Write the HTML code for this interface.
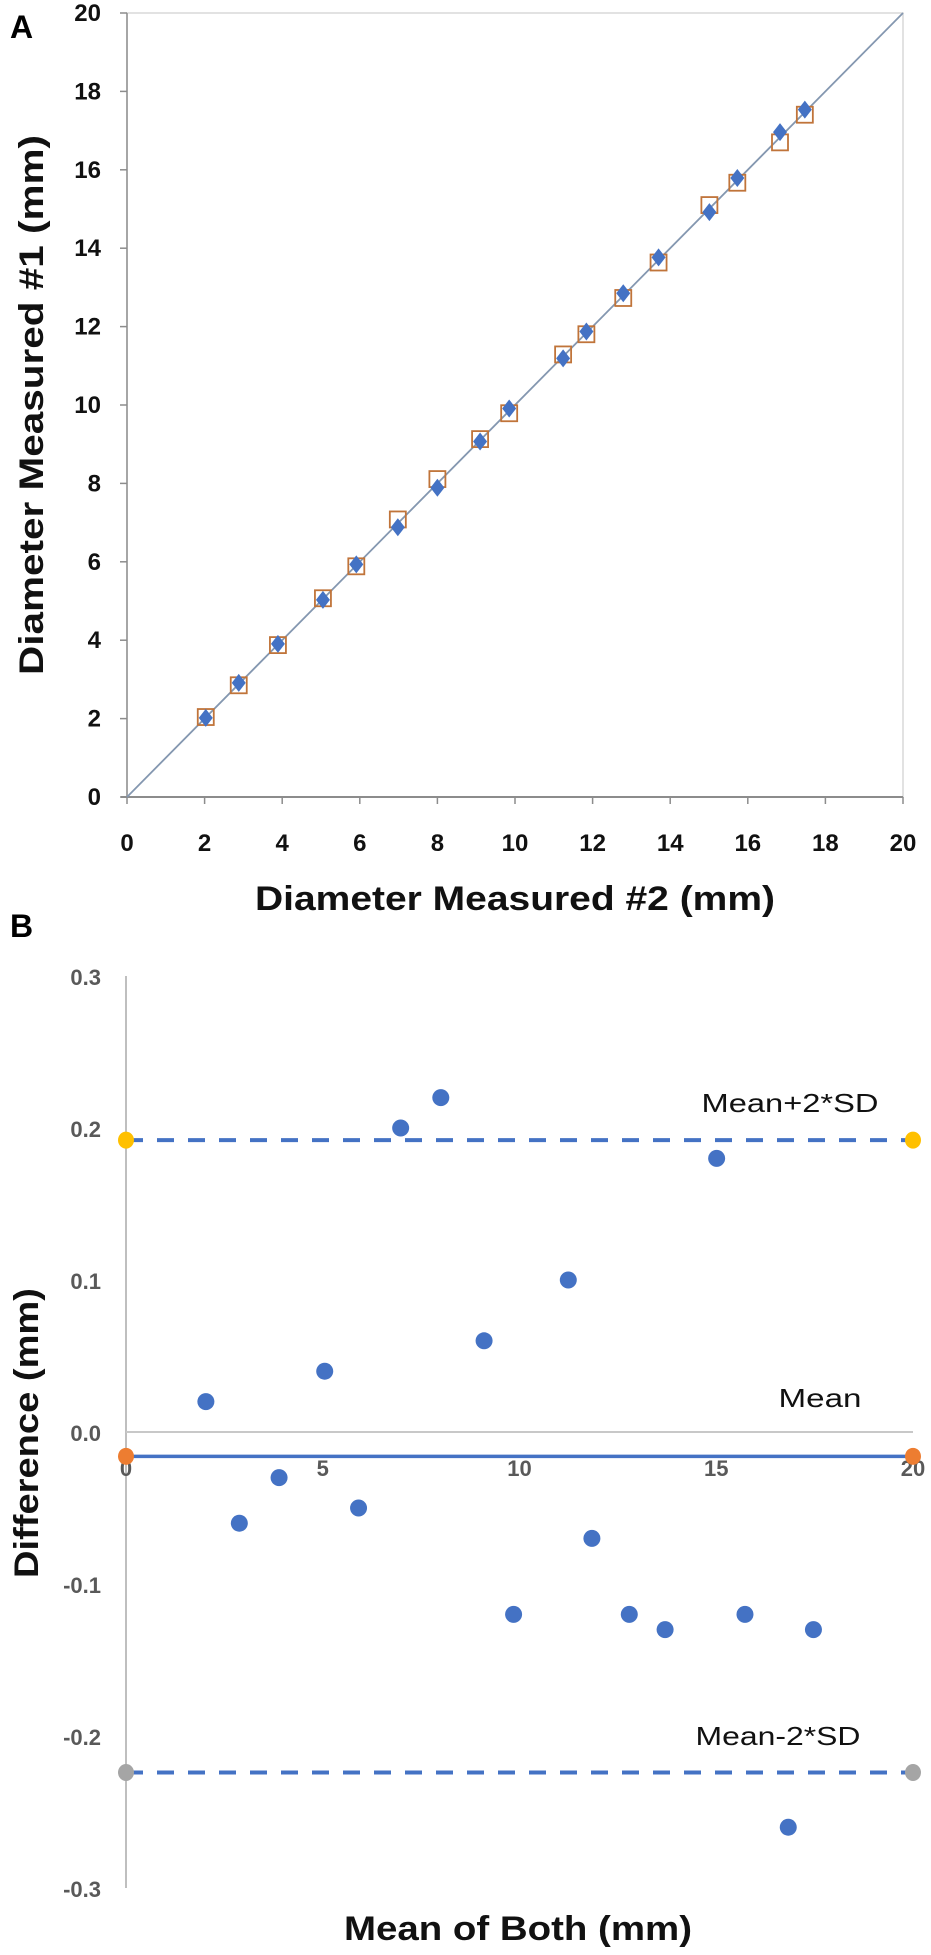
<!DOCTYPE html>
<html><head><meta charset="utf-8"><style>
html,body{margin:0;padding:0;background:#fff;}
svg{display:block;font-family:"Liberation Sans",sans-serif;}
</style></head><body>
<svg id="fig" width="931" height="1955" viewBox="0 0 931 1955">
<g id="chartA"></g>
<g id="chartB"></g>
</svg>
<script>
// shared data: mean of both measurements and difference (#1 - #2)
const means = [2.03, 2.88, 3.89, 5.05, 5.91, 6.98, 8.0, 9.1, 9.85, 11.24, 11.84, 12.79, 13.7, 15.01, 15.73, 16.83, 17.47];
const diffs = [0.02, -0.06, -0.03, 0.04, -0.05, 0.2, 0.22, 0.06, -0.12, 0.1, -0.07, -0.12, -0.13, 0.18, -0.12, -0.26, -0.13];
const ticksA = [0, 2, 4, 6, 8, 10, 12, 14, 16, 18, 20];
const ticksBy = [0.3, 0.2, 0.1, 0.0, -0.1, -0.2, -0.3];
const ticksBx = [0, 5, 10, 15, 20];
const meanDiff = -0.016;
const upperLoA = 0.192;
const lowerLoA = -0.224;

const NS = "http://www.w3.org/2000/svg";
function mk(parent, tag, attrs, text) {
  const e = document.createElementNS(NS, tag);
  for (const k in attrs) e.setAttribute(k, attrs[k]);
  if (text !== undefined) e.textContent = text;
  parent.appendChild(e);
  return e;
}

// ---- Chart A ----
const A = document.getElementById('chartA');
const ax = v => 127 + v * 38.8;
const ay = v => 797 - v * 39.2;
let e;
e = mk(A, 'rect', {x: 127, y: 13, width: 776, height: 784, fill: 'none', stroke: '#d9d9d9', 'stroke-width': 1.5});


e = mk(A, 'line', {x1: 127, y1: 13, x2: 127, y2: 797, stroke: '#a6a6a6', 'stroke-width': 2});


e = mk(A, 'line', {x1: 121, y1: 797, x2: 903, y2: 797, stroke: '#8c8c8c', 'stroke-width': 2});


ticksA.forEach(t => {
  e = mk(A, 'line', {x1: 120, y1: ay(t), x2: 127, y2: ay(t), stroke: '#8c8c8c', 'stroke-width': 1.5});
  
  
  e = mk(A, 'text', {x: 101, y: ay(t) + 8, 'text-anchor': 'end', 'font-size': 24, 'font-weight': 'bold', fill: '#111'}, String(t));
  
  
  e = mk(A, 'line', {x1: ax(t), y1: 797, x2: ax(t), y2: 804, stroke: '#8c8c8c', 'stroke-width': 1.5});
  
  
  e = mk(A, 'text', {x: ax(t), y: 851, 'text-anchor': 'middle', 'font-size': 24, 'font-weight': 'bold', fill: '#111'}, String(t));
  
  
});
e = mk(A, 'line', {x1: ax(0), y1: ay(0), x2: ax(20), y2: ay(20), stroke: '#8497b0', 'stroke-width': 1.8});


means.forEach((m, i) => {
  const d = diffs[i];
  const sx = ax(m), sy = ay(m + d / 2);
  e = mk(A, 'rect', {x: sx - 8, y: sy - 8, width: 16, height: 16, fill: 'none', stroke: '#c0743a', 'stroke-width': 1.8});
  
  
  const dx = ax(m), dy = ay(m - d / 2);
  e = mk(A, 'polygon', {points: `${dx},${dy-9} ${dx+7},${dy} ${dx},${dy+9} ${dx-7},${dy}`, fill: '#4472c4'});
  
  
});
e = mk(A, 'text', {x: 10, y: 38, 'font-size': 32, 'font-weight': 'bold', fill: '#000'}, 'A');


e = mk(A, 'text', {x: 515, y: 910, 'text-anchor': 'middle', 'font-size': 34, 'font-weight': 'bold', fill: '#111', textLength: 520, lengthAdjust: 'spacingAndGlyphs'}, 'Diameter Measured #2 (mm)');


e = mk(A, 'text', {x: 0, y: 0, 'text-anchor': 'middle', 'font-size': 34, 'font-weight': 'bold', fill: '#111', transform: 'translate(43,405) rotate(-90)', textLength: 540, lengthAdjust: 'spacingAndGlyphs'}, 'Diameter Measured #1 (mm)');



// ---- Chart B ----
const B = document.getElementById('chartB');
const bx = v => 126 + v * 39.35;
const by = v => 1432 - v * 1520;
e = mk(B, 'text', {x: 10, y: 937, 'font-size': 32, 'font-weight': 'bold', fill: '#000'}, 'B');


e = mk(B, 'line', {x1: 126, y1: by(0.3), x2: 126, y2: by(-0.3), stroke: '#bfbfbf', 'stroke-width': 2});


e = mk(B, 'line', {x1: 126, y1: by(0), x2: bx(20), y2: by(0), stroke: '#c8c8c8', 'stroke-width': 2});


ticksBy.forEach(t => {
  e = mk(B, 'text', {x: 101, y: by(t) + 9, 'text-anchor': 'end', 'font-size': 22, 'font-weight': 'bold', fill: '#595959'}, t.toFixed(1));
  
  
});
ticksBx.forEach(t => {
  e = mk(B, 'text', {x: bx(t), y: by(0) + 44, 'text-anchor': 'middle', 'font-size': 22, 'font-weight': 'bold', fill: '#595959'}, String(t));
  
  
});
e = mk(B, 'line', {x1: bx(0), y1: by(upperLoA), x2: bx(20), y2: by(upperLoA), stroke: '#4472c4', 'stroke-width': 4, 'stroke-dasharray': '17 14'});


e = mk(B, 'line', {x1: bx(0), y1: by(lowerLoA), x2: bx(20), y2: by(lowerLoA), stroke: '#4472c4', 'stroke-width': 4, 'stroke-dasharray': '17 14'});


e = mk(B, 'line', {x1: bx(0), y1: by(meanDiff), x2: bx(20), y2: by(meanDiff), stroke: '#4472c4', 'stroke-width': 3.5});


[[upperLoA, '#ffc000', 'upper-limit-endpoint'], [meanDiff, '#ed7d31', 'mean-endpoint'], [lowerLoA, '#a5a5a5', 'lower-limit-endpoint']].forEach(([v, c, n]) => {
  [0, 20].forEach(xv => {
    e = mk(B, 'ellipse', {cx: bx(xv), cy: by(v), rx: 8, ry: 8.5, fill: c});
    
    
  });
});
means.forEach((m, i) => {
  e = mk(B, 'ellipse', {cx: bx(m), cy: by(diffs[i]), rx: 8.5, ry: 8.5, fill: '#4472c4'});
  
  
});
e = mk(B, 'text', {x: 790, y: 1112, 'text-anchor': 'middle', 'font-size': 26, fill: '#111', textLength: 177, lengthAdjust: 'spacingAndGlyphs'}, 'Mean+2*SD');


e = mk(B, 'text', {x: 820, y: 1407, 'text-anchor': 'middle', 'font-size': 26, fill: '#111', textLength: 83, lengthAdjust: 'spacingAndGlyphs'}, 'Mean');


e = mk(B, 'text', {x: 778, y: 1745, 'text-anchor': 'middle', 'font-size': 26, fill: '#111', textLength: 165, lengthAdjust: 'spacingAndGlyphs'}, 'Mean-2*SD');


e = mk(B, 'text', {x: 518, y: 1940, 'text-anchor': 'middle', 'font-size': 34, 'font-weight': 'bold', fill: '#111', textLength: 348, lengthAdjust: 'spacingAndGlyphs'}, 'Mean of Both (mm)');


e = mk(B, 'text', {x: 0, y: 0, 'text-anchor': 'middle', 'font-size': 34, 'font-weight': 'bold', fill: '#111', transform: 'translate(38,1433) rotate(-90)', textLength: 290, lengthAdjust: 'spacingAndGlyphs'}, 'Difference (mm)');


</script>
</body></html>
